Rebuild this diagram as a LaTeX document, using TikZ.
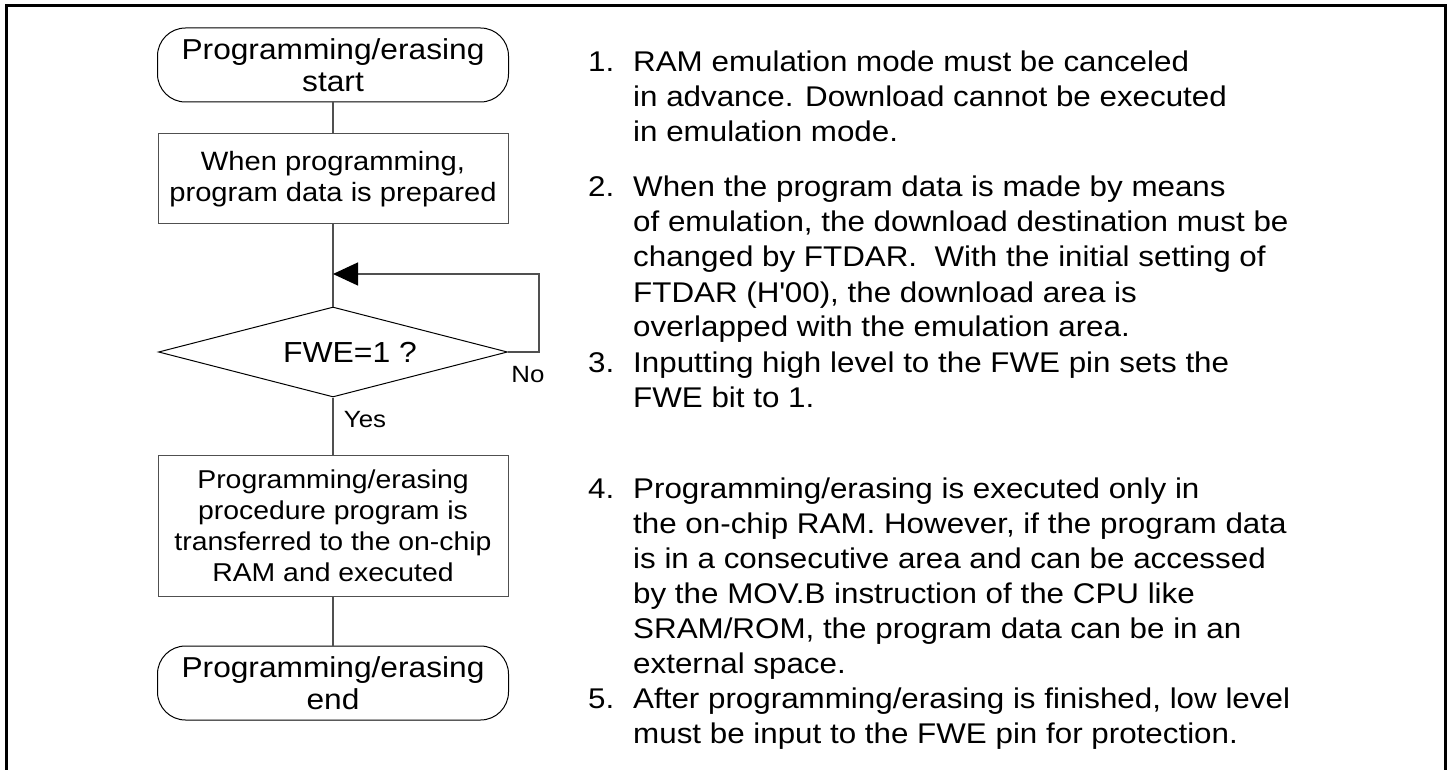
\documentclass[tikz,border=0pt]{standalone}
\usepackage{fontspec}
\setmainfont{Liberation Sans}[FakeStretch=1.1]
\usetikzlibrary{shapes.geometric,arrows.meta}
\definecolor{linegray}{HTML}{505050}
\begin{document}
\begin{tikzpicture}[x=1pt,y=-1pt,
  terminal/.style={draw=black, line width=1pt, rounded corners=28pt, minimum width=351pt, minimum height=74pt, inner sep=0pt, align=center, font=\fontsize{28.8}{32}\selectfont},
  stepbox/.style={draw=linegray, line width=1pt, minimum width=350pt, inner sep=0pt, align=center, font=\fontsize{26.5}{31}\selectfont},
  decision/.style={draw=black, diamond, aspect=3.88, line width=1pt, minimum width=349pt, minimum height=90pt, inner sep=0pt, font=\fontsize{29}{34}\selectfont},
  flow/.style={draw=linegray, line width=1.2pt},
  note/.style={anchor=base west, inner sep=0pt, font=\fontsize{28.5}{35}\selectfont},
  tag/.style={inner sep=0pt, font=\fontsize{23.5}{28}\selectfont}]
\useasboundingbox (0,0) rectangle (1451,770);
\draw[line width=3pt] (6,770) -- (6,6) -- (1445,6) -- (1445,770);
\node[terminal] (start) at (333,65) {Programming/erasing\\start};
\node[stepbox, minimum height=90pt] (prep) at (333,179) {When programming,\\program data is prepared};
\node[decision] (fwe) at (333,352) {\hspace*{34pt}FWE=1 ?};
\node[stepbox, minimum height=141pt, font=\fontsize{25.8}{31}\selectfont] (load) at (333,525.5) {Programming/erasing\\procedure program is\\transferred to the on-chip\\RAM and executed};
\node[terminal] (finish) at (333,683) {Programming/erasing\\end};
\coordinate (join) at (333,274);
\coordinate (loop) at (539,274);
\draw[flow] (start) -- (prep);
\draw[flow] (prep) -- (fwe);
\draw[flow] (fwe) -- (load);
\draw[flow] (load) -- (finish);
\draw[flow, -{Triangle[length=25pt,width=23pt,black]}] (fwe.east) -| (loop) -- (join);
\node[tag] (no) at (528,375) {No};
\node[tag] (yes) at (365,420) {Yes};
\node[note] (n1) at (588,72) {\makebox[45pt][l]{1.}\parbox[t]{780pt}{RAM emulation mode must be canceled\\in advance. Download cannot be executed\\in emulation mode.}};
\node[note] (n2) at (588,197) {\makebox[45pt][l]{2.}\parbox[t]{780pt}{When the program data is made by means\\of emulation, the download destination must be\\changed by FTDAR.\ \ With the initial setting of\\FTDAR (H\textquotesingle 00), the download area is\\overlapped with the emulation area.}};
\node[note] (n3) at (588,372) {\makebox[45pt][l]{3.}\parbox[t]{780pt}{Inputting high level to the FWE pin sets the\\FWE bit to 1.}};
\node[note] (n4) at (588,498) {\makebox[45pt][l]{4.}\parbox[t]{780pt}{Programming/erasing is executed only in\\the on-chip RAM. However, if the program data\\is in a consecutive area and can be accessed\\by the MOV.B instruction of the CPU like\\SRAM/ROM, the program data can be in an\\external space.}};
\node[note] (n5) at (588,708) {\makebox[45pt][l]{5.}\parbox[t]{780pt}{After programming/erasing is finished, low level\\must be input to the FWE pin for protection.}};
\end{tikzpicture}
\end{document}
